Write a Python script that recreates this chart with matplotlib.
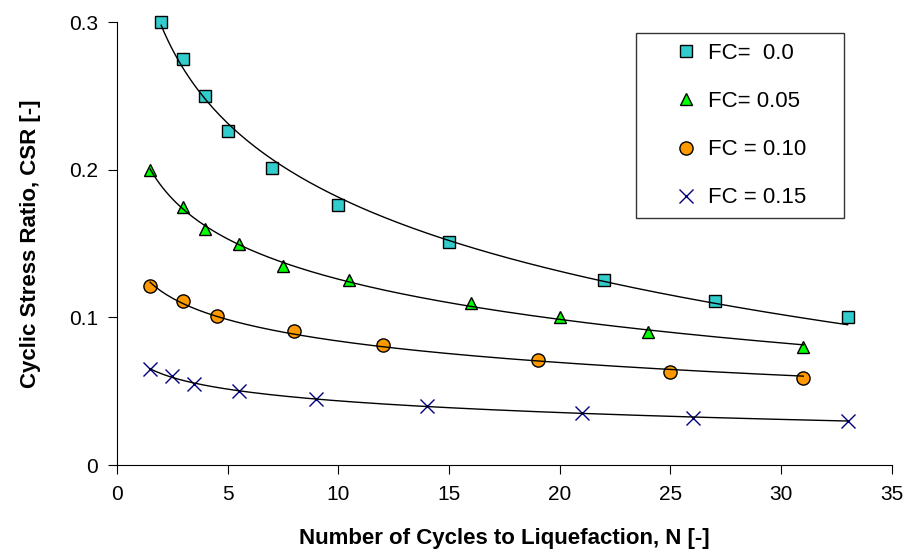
import numpy as np
import matplotlib
matplotlib.use("Agg")
import matplotlib.pyplot as plt

plt.rcParams["font.family"] = ["Liberation Sans", "DejaVu Sans"]

# cycles to liquefaction and CSR
n_fc000 = [2, 3, 4, 5, 7, 10, 15, 22, 27, 33]
csr_fc000 = [0.300, 0.275, 0.250, 0.226, 0.201, 0.176, 0.151, 0.125, 0.111, 0.100]
n_fc005 = [1.5, 3, 4, 5.5, 7.5, 10.5, 16, 20, 24, 31]
csr_fc005 = [0.200, 0.175, 0.160, 0.150, 0.135, 0.125, 0.110, 0.100, 0.090, 0.080]
n_fc010 = [1.5, 3, 4.5, 8, 12, 19, 25, 31]
csr_fc010 = [0.121, 0.111, 0.101, 0.091, 0.081, 0.071, 0.063, 0.059]
n_fc015 = [1.5, 2.5, 3.5, 5.5, 9, 14, 21, 26, 33]
csr_fc015 = [0.065, 0.060, 0.055, 0.050, 0.045, 0.040, 0.035, 0.032, 0.030]
labels = ["FC=  0.0", "FC= 0.05", "FC = 0.10", "FC = 0.15"]

fig = plt.figure(figsize=(9.06, 5.51), dpi=100)
ax = fig.add_axes([0.129, 0.156, 0.8554, 0.804])

series = [(n_fc000, csr_fc000, dict(marker="s", ms=8, mfc="#33CCCC", mec="black", mew=1.0)),
          (n_fc005, csr_fc005, dict(marker="^", ms=8.5, mfc="#00FF00", mec="black", mew=1.0)),
          (n_fc010, csr_fc010, dict(marker="o", ms=9.5, mfc="#FF9900", mec="black", mew=1.0)),
          (n_fc015, csr_fc015, dict(marker="x", ms=10, mfc="none", mec="#000080", mew=1.0))]

for (x, y, st), lab in zip(series, labels):
    x = np.array(x); y = np.array(y)
    # logarithmic trend line y = a*ln(N) + b
    a, b = np.polyfit(np.log(x), y, 1)
    xf = np.linspace(x.min(), x.max(), 200)
    ax.plot(x, y, ls="none", label=lab, zorder=2, clip_on=False, **st)
    ax.plot(xf, a * np.log(xf) + b, "-", color="black", lw=1.0, zorder=3, clip_on=False)

ax.set_xlim(0, 35); ax.set_ylim(0, 0.3)
ax.set_xticks(range(0, 36, 5)); ax.set_yticks([0, 0.1, 0.2, 0.3])
ax.set_yticklabels(["0", "0.1", "0.2", "0.3"])
ax.spines["top"].set_visible(False); ax.spines["right"].set_visible(False)
ax.tick_params(direction="out", length=6.5, labelsize=15)
ax.tick_params(axis="x", pad=8); ax.tick_params(axis="y", pad=7)
ax.set_xlabel("Number of Cycles to Liquefaction, N [-]", fontsize=16, fontweight="bold", labelpad=17)
ax.set_ylabel("Cyclic Stress Ratio, CSR [-]", fontsize=16, fontweight="bold", labelpad=20)

leg = ax.legend(loc="upper left", bbox_to_anchor=(0.6697, 0.5485, 0.2684, 0.4265), mode="expand",
                borderaxespad=0, fontsize=16, frameon=True, fancybox=False, edgecolor="black",
                labelspacing=1.22, borderpad=0.45, handlelength=3.6, handletextpad=-0.8)
leg.get_frame().set_linewidth(1.0)

plt.savefig("out.png", dpi=100)
